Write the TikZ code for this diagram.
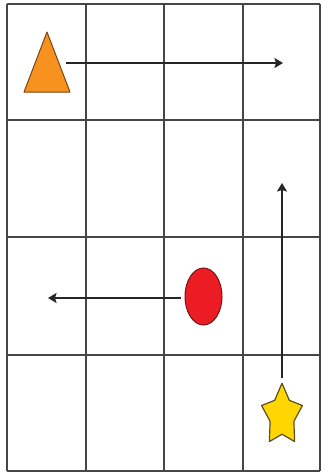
\documentclass[tikz,border=0pt]{standalone}
\usetikzlibrary{arrows.meta}
\definecolor{gridc}{RGB}{70,70,70}
\definecolor{orangef}{RGB}{247,146,30}
\definecolor{oranged}{RGB}{120,70,20}
\definecolor{redf}{RGB}{236,28,36}
\definecolor{redd}{RGB}{120,20,20}
\definecolor{yellowf}{RGB}{255,214,0}
\definecolor{yellowd}{RGB}{90,80,30}
\tikzset{
  gridline/.style={draw=gridc, line width=1.8pt},
  move/.style={draw=black!85, line width=1.6pt, -{Stealth[length=8.5pt,width=10pt,inset=1.5pt]}},
}
\begin{document}
\begin{tikzpicture}[x=1pt,y=-1pt]
\useasboundingbox (0,0) rectangle (321,474);
\fill[white] (0,0) rectangle (321,474);
% grid
\foreach \x in {7,86,164,243,320} \draw[gridline] (\x,4) -- (\x,471);
\foreach \y in {4,120,237,355,471} \draw[gridline] (7,\y) -- (320,\y);
% triangle
\filldraw[fill=orangef, draw=oranged, line width=1pt, line join=round] (47,32) -- (70,92) -- (24,92) -- cycle;
% ellipse
\filldraw[fill=redf, draw=redd, line width=1pt] (203.5,296.5) ellipse (18.5 and 28.5);
% star
\filldraw[fill=yellowf, draw=yellowd, line width=1.2pt, line join=round]
  plot[samples at={0,...,9}] ({282+(mod(\x,2)==0?21.5:12.5)*sin(36*\x)}, {415.5-1.5*(mod(\x,2)==0?21.5:12.5)*cos(36*\x)}) -- cycle;
% arrow endpoints
\coordinate (triR) at (66,63);
\coordinate (topEnd) at (283,63);
\coordinate (circL) at (181,298);
\coordinate (leftEnd) at (48,298);
\coordinate (starT) at (282,378);
\coordinate (upEnd) at (282,183);
\draw[move] (triR) -- (topEnd);
\draw[move] (circL) -- (leftEnd);
\draw[move] (starT) -- (upEnd);
\end{tikzpicture}
\end{document}
